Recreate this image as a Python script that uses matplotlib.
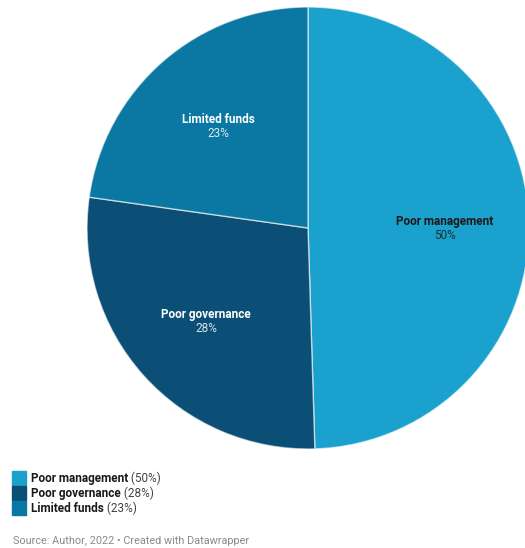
import numpy as np
import matplotlib
matplotlib.use("Agg")
import matplotlib.pyplot as plt
from matplotlib.patches import Rectangle

plt.rcParams['font.family'] = ['Roboto', 'DejaVu Sans']

# data
labels = ['Poor management', 'Poor governance', 'Limited funds']
values = [50, 28, 23]
colors = ['#1ba1cd', '#0b4f77', '#0a78a3']
text_colors = ['#1a1a1a', 'white', 'white']

W, H = 525, 548
fig = plt.figure(figsize=(W / 100, H / 100), dpi=100)

# pie placed in pixels: centre (308, 228), radius 221
cx, cy, r = 308, 228, 221
ax = fig.add_axes([(cx - r) / W, (H - cy - r) / H, 2 * r / W, 2 * r / H])
wedges, _ = ax.pie(values, colors=colors, startangle=90, counterclock=False,
                   radius=1, wedgeprops=dict(edgecolor=(1, 1, 1, 0.6), linewidth=1))
ax.set_xlim(-1, 1)
ax.set_ylim(-1, 1)
ax.set_aspect('auto')
ax.axis('off')

# labels inside the slices
for w, lab, v, tc in zip(wedges, labels, values, text_colors):
    ang = np.deg2rad((w.theta1 + w.theta2) / 2)
    x, y = 0.62 * np.cos(ang), 0.62 * np.sin(ang)
    ax.text(x, y + 0.022, lab, ha='center', va='center', fontsize=8.5,
            fontweight='bold', color=tc)
    ax.text(x, y - 0.042, f'{v}%', ha='center', va='center', fontsize=8.5,
            color=tc, alpha=0.85)

# legend
row_y = [471, 486, 501]
for yy, lab, v, c in zip(row_y, labels, values, colors):
    fig.patches.append(Rectangle((12 / W, 1 - (yy + 14) / H), 14 / W, 14 / H,
                                 transform=fig.transFigure, color=c))
    t = fig.text(31 / W, 1 - (yy + 7.5) / H, lab, fontsize=8.5, fontweight='bold',
                 color='#1a1a1a', va='center')
    ax.annotate(f' ({v}%)', xy=(1, 0), xycoords=t, fontsize=8.5, color='#444444',
                va='bottom', ha='left', annotation_clip=False)

fig.text(13 / W, 1 - 541 / H, 'Source: Author, 2022 \u2022 Created with Datawrapper',
         fontsize=7.8, color='#8a8a8a', va='center')

fig.savefig('out.png', dpi=100)
